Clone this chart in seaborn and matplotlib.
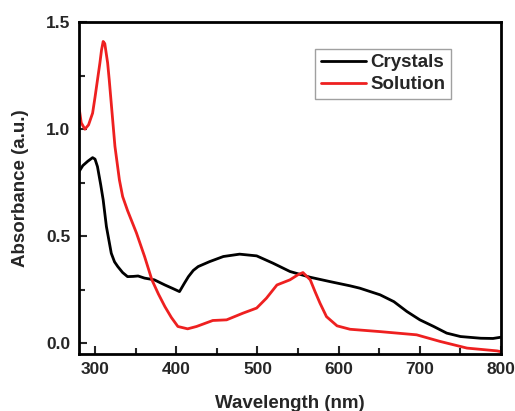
import numpy as np
import pandas as pd
import matplotlib
matplotlib.use("Agg")
import matplotlib.pyplot as plt
import seaborn as sns
from matplotlib.ticker import MultipleLocator

# spectra
crystal_wl = [280, 285, 291, 297, 300, 303, 307, 310, 314, 320, 324, 328, 334, 340, 347,
              353, 361, 373, 386, 396, 404, 410, 415, 421, 427, 441, 458, 478, 499, 519,
              540, 565, 589, 614, 626, 651, 668, 684, 700, 717, 733, 750, 775, 790, 800]
crystal_abs = [0.80, 0.83, 0.85, 0.867, 0.86, 0.825, 0.74, 0.67, 0.545, 0.42, 0.38, 0.358,
               0.33, 0.311, 0.312, 0.314, 0.304, 0.296, 0.272, 0.255, 0.241, 0.28, 0.311,
               0.34, 0.358, 0.381, 0.405, 0.416, 0.408, 0.374, 0.335, 0.308, 0.288, 0.268,
               0.257, 0.226, 0.194, 0.148, 0.109, 0.078, 0.047, 0.031, 0.023, 0.022, 0.028]

solution_wl = [280, 283, 287.5, 292, 297, 300, 303, 306, 308, 310, 312, 315.5, 317.5, 321,
               324.5, 330, 334, 340, 351, 361, 370, 378, 386, 394, 402, 414, 425, 445,
               462, 482, 499, 511, 524, 540, 550, 556, 565, 571, 577, 585, 598, 614, 651,
               696, 725, 758, 795, 800]
solution_abs = [1.11, 1.03, 1.00, 1.02, 1.075, 1.15, 1.23, 1.31, 1.37, 1.41, 1.40, 1.31,
                1.23, 1.075, 0.92, 0.763, 0.685, 0.62, 0.515, 0.405, 0.296, 0.23, 0.171,
                0.12, 0.078, 0.067, 0.078, 0.106, 0.109, 0.14, 0.164, 0.21, 0.272, 0.296,
                0.32, 0.33, 0.296, 0.24, 0.187, 0.124, 0.081, 0.065, 0.054, 0.039, 0.008,
                -0.023, -0.036, -0.04]

df = pd.concat([
    pd.DataFrame({"wl": crystal_wl, "abs": crystal_abs, "sample": "Crystals"}),
    pd.DataFrame({"wl": solution_wl, "abs": solution_abs, "sample": "Solution"}),
])

sns.set_style("white")
plt.rcParams["font.family"] = ["Liberation Sans", "DejaVu Sans"]
plt.rcParams["font.weight"] = "bold"

fig = plt.figure(figsize=(5.15, 4.11), dpi=100)
ax = fig.add_axes([0.153, 0.139, 0.820, 0.807])

sns.lineplot(data=df, x="wl", y="abs", hue="sample", sort=False,
             palette={"Crystals": "black", "Solution": "#ee2020"},
             linewidth=2, ax=ax)

ax.set_xlim(280, 800)
ax.set_ylim(-0.05, 1.5)
ax.xaxis.set_major_locator(MultipleLocator(100))
ax.xaxis.set_minor_locator(MultipleLocator(50))
ax.yaxis.set_major_locator(MultipleLocator(0.5))
ax.yaxis.set_minor_locator(MultipleLocator(0.25))
ax.tick_params(which="both", direction="in", width=1.5, bottom=True, left=True,
               labelsize=12.5, pad=6)
ax.tick_params(which="major", length=6)
ax.tick_params(which="minor", length=4)
for s in ax.spines.values():
    s.set_linewidth(2)
    s.set_color("black")

ax.set_xlabel("Wavelength (nm)", fontsize=13.5, fontweight="bold", labelpad=13)
ax.set_ylabel("Absorbance (a.u.)", fontsize=13.5, fontweight="bold", labelpad=12)

leg = ax.legend(loc="upper right", bbox_to_anchor=(0.882, 0.92), fontsize=13.5,
                frameon=True, fancybox=False, handlelength=2.4, handletextpad=0.25,
                borderpad=0.3, labelspacing=0.25, borderaxespad=0)
leg.get_frame().set_edgecolor("#888888")
leg.get_frame().set_linewidth(1)
for t in leg.get_texts():
    t.set_fontweight("bold")

fig.savefig("out.png", dpi=100)
